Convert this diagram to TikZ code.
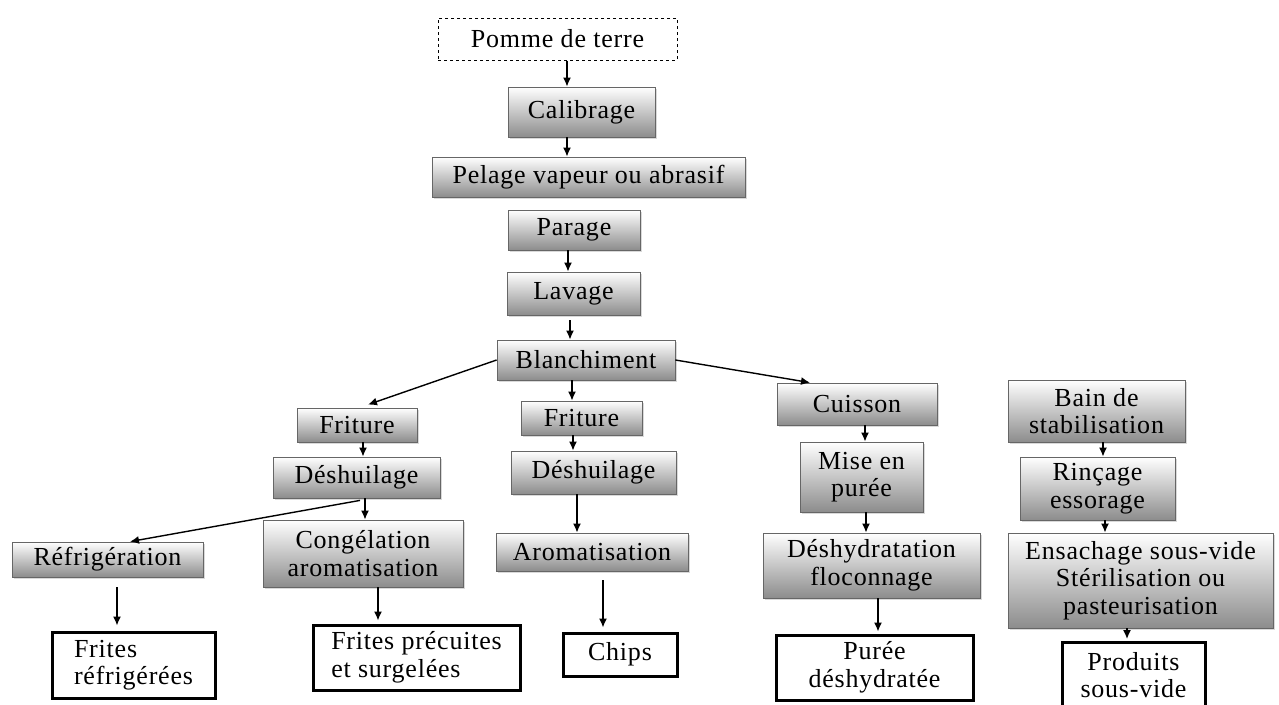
\documentclass[tikz,border=0pt]{standalone}
\usepackage{fontspec}
\setmainfont{Liberation Serif}[LetterSpace=3]
\usetikzlibrary{arrows.meta}
\usetikzlibrary{shadows}
\usetikzlibrary{positioning}

\tikzset{
  etape/.style={draw=black!60,line width=0.8pt,top color=white,bottom color=black!45,
    drop shadow={opacity=0.3,shadow xshift=1.5pt,shadow yshift=-1.5pt}},
  matiere/.style={draw,dashed,line width=1pt,fill=white},
  produit/.style={draw,line width=3pt,fill=white},
  fleche/.style={->,line width=1.4pt}
}

\begin{document}
\begin{tikzpicture}[x=1pt,y=-1pt,
  >={Latex[length=9pt,width=8pt]},
  every node/.style={inner sep=0pt,align=center,font=\fontsize{26}{27.5}\selectfont}]
\useasboundingbox (0,0) rectangle (1279,704);

\node[matiere,minimum width=239,minimum height=42] (pomme) at (557.5,39) {Pomme de terre};
\node[etape,minimum width=147,minimum height=50] (calib) at (581.5,112) {Calibrage};
\node[etape,minimum width=313,minimum height=40] (pelage) at (588.5,177) {Pelage vapeur ou abrasif};
\node[etape,minimum width=132,minimum height=40] (parage) at (574,230) {Parage};
\node[etape,minimum width=133,minimum height=43] (lavage) at (573.5,293.5) {Lavage};
\node[etape,minimum width=178,minimum height=40] (blanch) at (586,360) {Blanchiment};

\node[etape,minimum width=120,minimum height=34] (fritA) at (357,425) {Friture};
\node[etape,minimum width=167,minimum height=41] (deshA) at (356.5,477.5) {Déshuilage};
\node[etape,minimum width=191,minimum height=35] (refrig) at (107.5,559.5) {Réfrigération};
\node[etape,minimum width=200,minimum height=67] (congel) at (363,553.5) {Congélation\\aromatisation};
\node[produit,minimum width=163,minimum height=66,align=left] (fritesR) at (133.5,665) {Frites\\réfrigérées};
\node[produit,minimum width=207,minimum height=65,align=left] (fritesP) at (416.5,657.5) {Frites précuites\\et surgelées};

\node[etape,minimum width=121,minimum height=34] (fritB) at (581.5,418) {Friture};
\node[etape,minimum width=165,minimum height=43] (deshB) at (593.5,472.5) {Déshuilage};
\node[etape,minimum width=192,minimum height=38] (arom) at (592,552) {Aromatisation};
\node[produit,minimum width=114,minimum height=43] (chips) at (620,654.5) {Chips};

\node[etape,minimum width=160,minimum height=42] (cuisson) at (857,404) {Cuisson};
\node[etape,minimum width=123,minimum height=70] (mise) at (861.5,477) {Mise en\\purée};
\node[etape,minimum width=217,minimum height=65] (deshyd) at (871.5,565.5) {Déshydratation\\floconnage};
\node[produit,minimum width=197,minimum height=65] (puree) at (874.5,667.5) {Purée\\déshydratée};

\node[etape,minimum width=177,minimum height=62] (bain) at (1096.5,411) {Bain de\\stabilisation};
\node[etape,minimum width=155,minimum height=63] (rincage) at (1097.5,488.5) {Rinçage\\essorage};
\node[etape,minimum width=265,minimum height=95] (ensach) at (1140.5,580.5) {Ensachage sous-vide\\Stérilisation ou\\pasteurisation};
\node[produit,minimum width=143,minimum height=66] (produits) at (1133.5,675) {Produits\\sous-vide};

\draw[fleche] ([xshift=9.5pt]pomme.south) -- ([xshift=9.5pt]pomme.south |- calib.north);
\draw[fleche] ([xshift=-14.5pt]calib.south) -- ([xshift=-14.5pt]calib.south |- pelage.north);
\draw[fleche] ([xshift=-6pt]parage.south) -- ([xshift=-6pt]parage.south |- lavage.north);
\draw[fleche,shorten <=5pt] ([xshift=-3.5pt]lavage.south) -- ([xshift=-3.5pt]lavage.south |- blanch.north);
\draw[fleche] (blanch.west) -- ([xshift=11pt,yshift=3pt]fritA.north);
\draw[fleche] ([xshift=-14pt]blanch.south) -- ([xshift=-14pt]blanch.south |- fritB.north);
\draw[fleche] (blanch.east) -- ([xshift=-47pt]cuisson.north);

\draw[fleche] ([xshift=6pt]fritA.south) -- ([xshift=6pt]fritA.south |- deshA.north);
\draw[fleche] ([xshift=8.5pt]deshA.south) -- ([xshift=8.5pt]deshA.south |- congel.north);
\draw[fleche] ([xshift=3.5pt,yshift=-2pt]deshA.south) -- ([xshift=22.5pt]refrig.north);
\draw[fleche,shorten <=10pt,shorten >=5pt] ([xshift=9.5pt]refrig.south) -- ([xshift=9.5pt]refrig.south |- fritesR.north);
\draw[fleche,shorten >=3pt] ([xshift=-38.5pt]fritesP.north |- congel.south) -- ([xshift=-38.5pt]fritesP.north);

\draw[fleche] ([xshift=-8.5pt]fritB.south) -- ([xshift=-8.5pt]fritB.south |- deshB.north);
\draw[fleche] ([xshift=-16.5pt]deshB.south) -- ([xshift=-16.5pt]deshB.south |- arom.north);
\draw[fleche,shorten <=9pt,shorten >=4pt] ([xshift=11pt]arom.south) -- ([xshift=11pt]arom.south |- chips.north);

\draw[fleche] ([xshift=8pt]cuisson.south) -- ([xshift=8pt]cuisson.south |- mise.north);
\draw[fleche] ([xshift=4.5pt]mise.south) -- ([xshift=4.5pt]mise.south |- deshyd.north);
\draw[fleche,shorten >=2pt] ([xshift=6.5pt]deshyd.south) -- ([xshift=6.5pt]deshyd.south |- puree.north);

\draw[fleche] ([xshift=6.5pt]bain.south) -- ([xshift=6.5pt]bain.south |- rincage.north);
\draw[fleche] ([xshift=7.5pt]rincage.south) -- ([xshift=7.5pt]rincage.south |- ensach.north);
\draw[fleche,shorten >=1.5pt] ([xshift=-13.5pt]ensach.south) -- ([xshift=-13.5pt]ensach.south |- produits.north);
\end{tikzpicture}
\end{document}
